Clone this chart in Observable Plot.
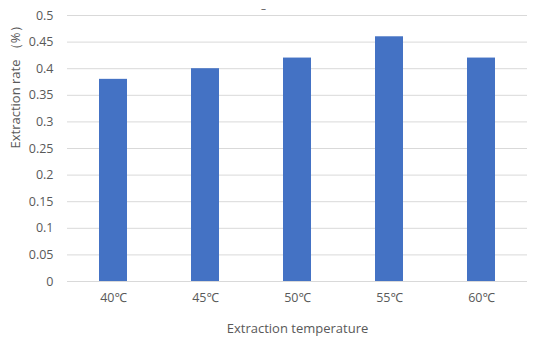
<!DOCTYPE html>
<html>
<head>
<meta charset="utf-8">
<script src="https://cdn.jsdelivr.net/npm/d3@7"></script>
<script src="https://cdn.jsdelivr.net/npm/@observablehq/plot@0.6"></script>
<style>
  html, body { margin: 0; padding: 0; background: #fff; }
  #chart { width: 550px; height: 344px; }
</style>
</head>
<body>
<div id="chart"></div>
<script>
const categories = ["40℃", "45℃", "50℃", "55℃", "60℃"];
const rates = [0.38, 0.40, 0.42, 0.46, 0.42];
const yTicks = [0, 0.05, 0.1, 0.15, 0.2, 0.25, 0.3, 0.35, 0.4, 0.45, 0.5];
const xTitle = "Extraction temperature";
const yTitle = "Extraction rate （%）";
const chartTitle = "–";

const data = categories.map((c, i) => ({ temp: c, rate: rates[i] }));
const font = "'Open Sans', 'Noto Sans', sans-serif";
const grey = "#595959";

const chart = Plot.plot({
  width: 550,
  height: 344,
  marginTop: 15,
  marginBottom: 63,
  marginLeft: 67,
  marginRight: 23,
  style: { fontFamily: font, fontSize: "12.5px", color: grey, background: "#fff" },
  x: { domain: categories, paddingInner: 0.7, paddingOuter: 0.35, label: null },
  y: { domain: [0, 0.5], label: null },
  marks: [
    Plot.gridY(yTicks, { stroke: "#d9d9d9", strokeOpacity: 1 }),
    Plot.barY(data, { x: "temp", y: "rate", fill: "#4472C4" }),
    Plot.axisX({ tickSize: 0, tickPadding: 12, fontSize: 12.5, label: null }),
    Plot.axisY(yTicks, { tickSize: 0, tickPadding: 14, fontSize: 12.5, label: null,
      tickFormat: d => String(+d.toFixed(2)) }),
    Plot.text([xTitle], { frameAnchor: "bottom", dy: 51, fontSize: 13, fill: grey }),
    Plot.text([yTitle], { frameAnchor: "left", dx: -52, rotate: -90, fontSize: 13, fill: grey }),
    Plot.text([chartTitle], { frameAnchor: "top", dx: -34, dy: -11, fontSize: 10, fill: grey })
  ]
});
document.getElementById("chart").appendChild(chart);
</script>
</body>
</html>
